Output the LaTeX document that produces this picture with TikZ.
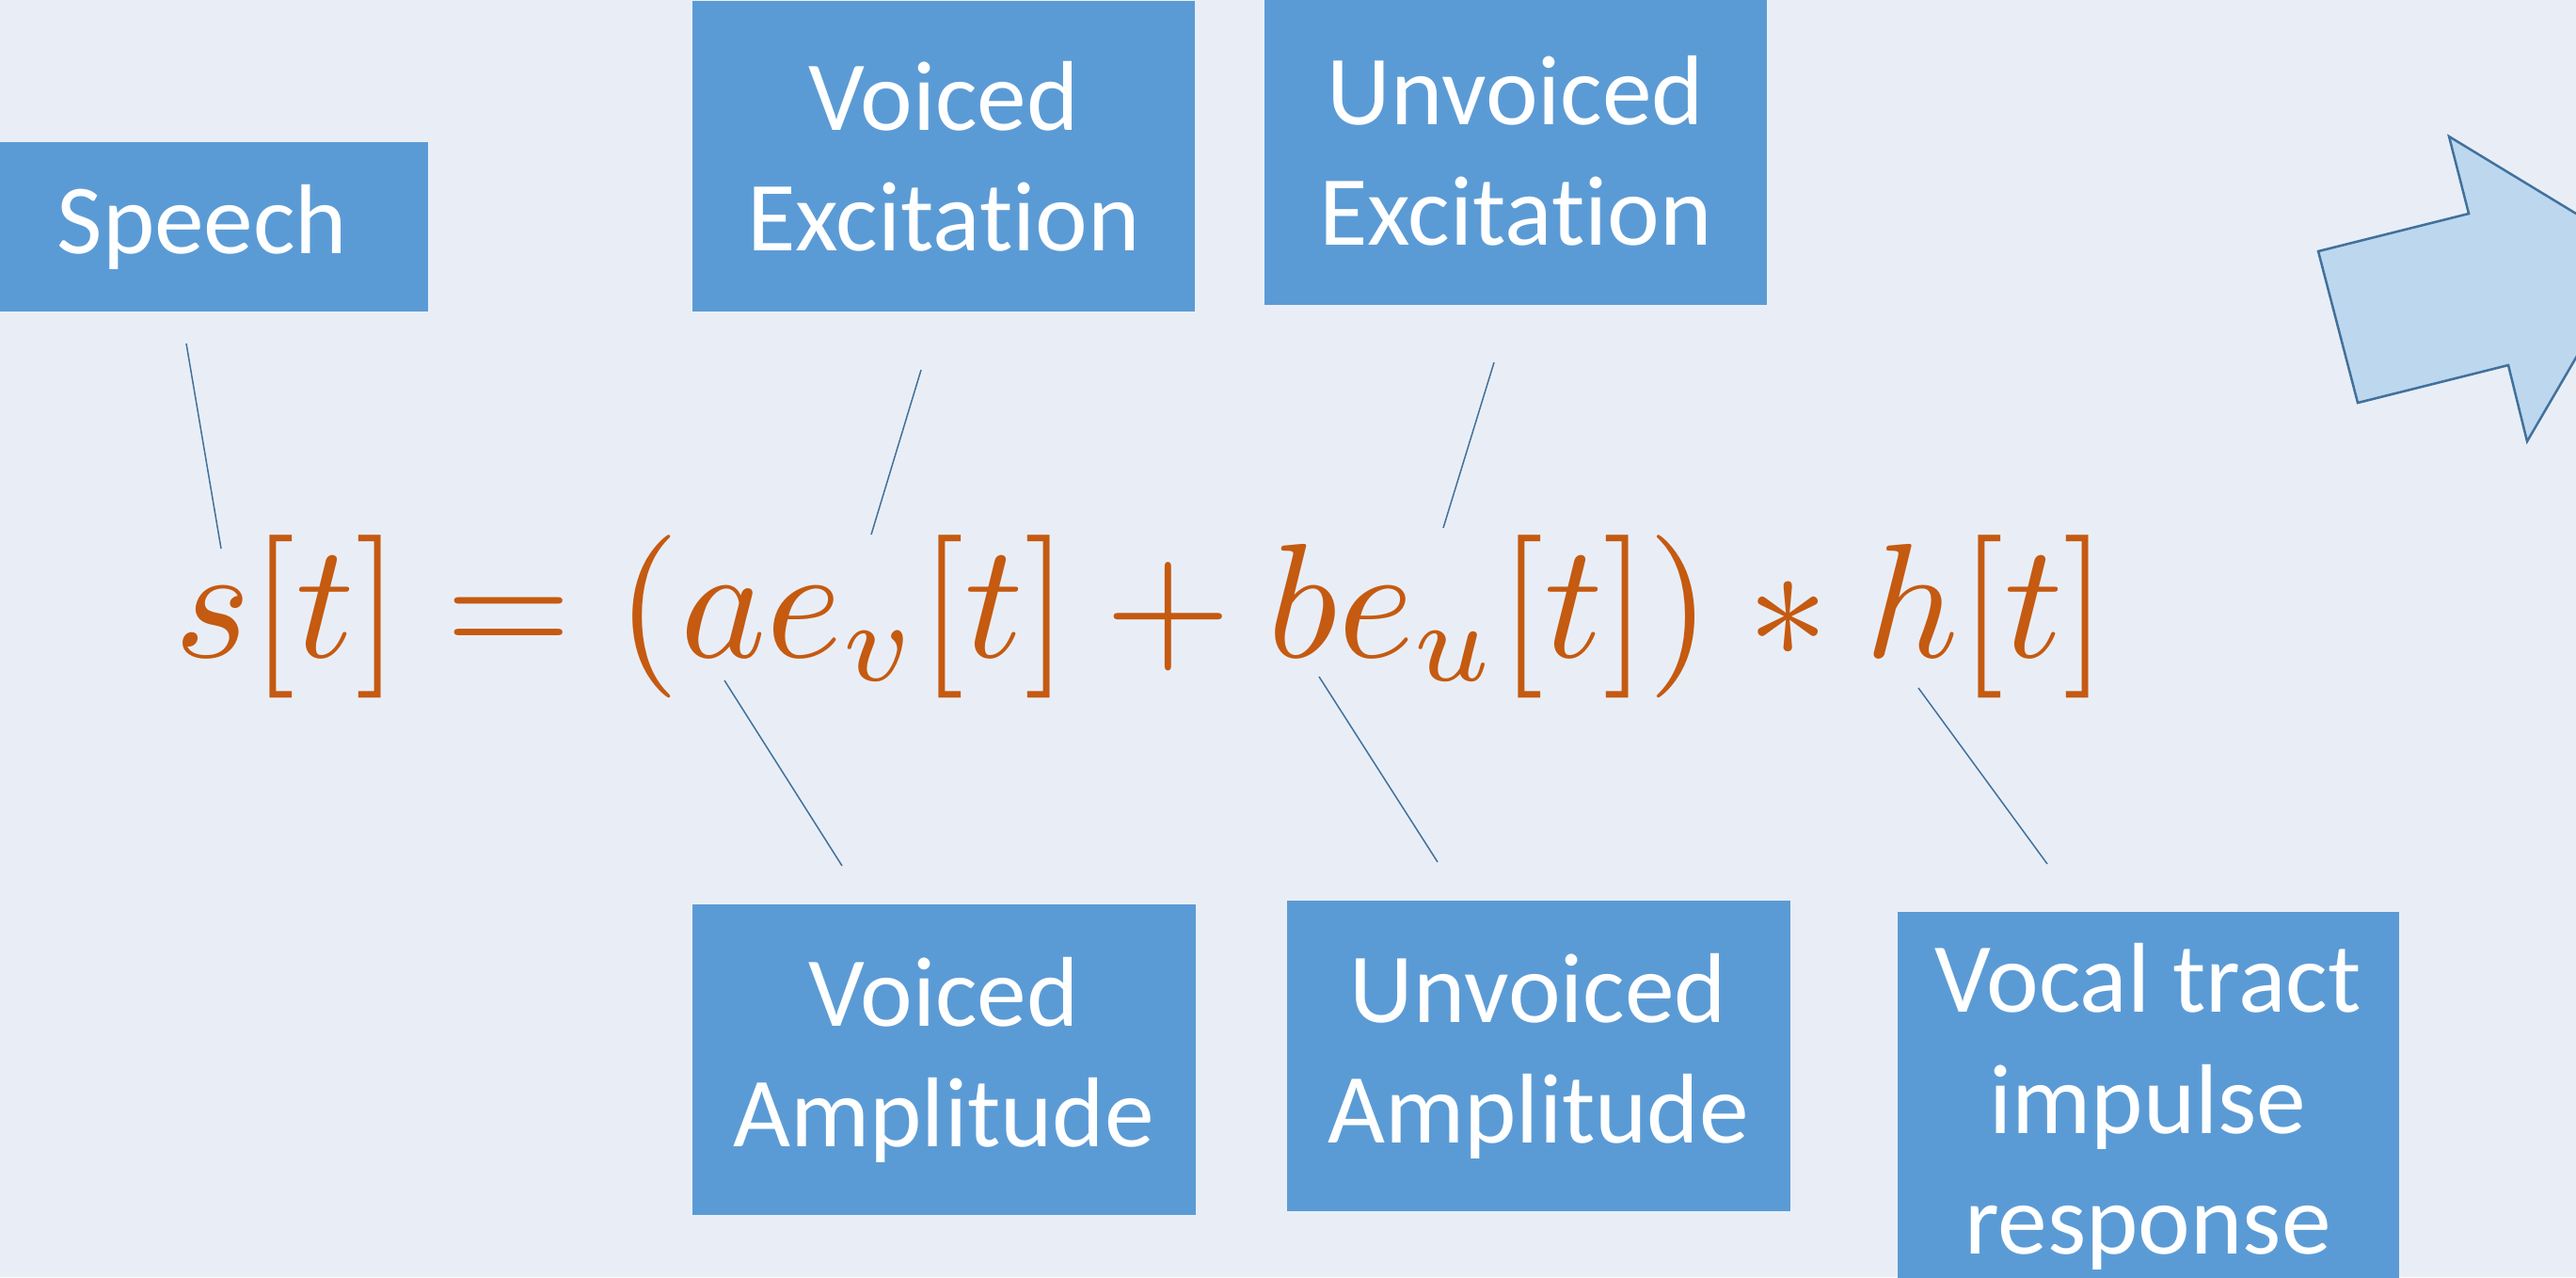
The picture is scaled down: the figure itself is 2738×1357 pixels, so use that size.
\documentclass[tikz,border=0pt]{standalone}
\usepackage{fontspec}
\newfontfamily\calibri[Ligatures={NoCommon,NoDiscretionary,NoRare}]{Carlito}
\definecolor{bg}{HTML}{E9EEF6}
\definecolor{boxblue}{HTML}{5B9BD5}
\definecolor{edgeblue}{HTML}{41719C}
\definecolor{lightblue}{HTML}{BDD7EE}
\definecolor{eqorange}{HTML}{C55A11}
\tikzset{
  labelbox/.style={rectangle, fill=boxblue, text=white, inner sep=0pt, align=center,
    font=\calibri\fontsize{30}{36.5}\selectfont},
  conn/.style={draw=edgeblue, line width=0.15mm},
  bigarrow/.style={draw=edgeblue, fill=lightblue, line width=0.25mm, line join=miter}
}
\begin{document}
\begin{tikzpicture}[x=0.1mm,y=-0.1mm]
\useasboundingbox (0,0) rectangle (2738,1357);
\fill[bg] (0,0) rectangle (2738,1357);
\begin{scope}
\clip (0,0) rectangle (2738,1357);
% top boxes
\node[labelbox, minimum width=48mm, minimum height=18mm] (speech) at (215,241) {Speech};
\node[labelbox, minimum width=53.4mm, minimum height=33mm] (vexc) at (1003,166) {Voiced\\Excitation};
\node[labelbox, minimum width=53.4mm, minimum height=32.8mm] (uexc) at (1611,160) {Unvoiced\\Excitation};
% bottom boxes
\node[labelbox, minimum width=53.5mm, minimum height=33mm] (vamp) at (1003,1126) {Voiced\\Amplitude};
\node[labelbox, minimum width=53.5mm, minimum height=33mm] (uamp) at (1635,1122) {Unvoiced\\Amplitude};
\node[labelbox, minimum width=53.3mm, minimum height=41.5mm] (vtract) at (2283,1176) {Vocal tract\\impulse\\response};
% arrow
\draw[bigarrow] (2464,267) -- (2624,227) -- (2603,145) -- (2804,267) -- (2686,469) -- (2666,388) -- (2506,428) -- cycle;
\end{scope}
% equation
\node[anchor=base west, inner sep=0pt, text=eqorange] (eq) at (185,698)
  {\resizebox{205.5mm}{!}{$s[t]=(ae_v[t]+be_u[t])*h[t]$}};
% connectors
\coordinate (sp1) at (198,365); \coordinate (sp2) at (235,583);
\coordinate (ve1) at (979,393); \coordinate (ve2) at (926,568);
\coordinate (ue1) at (1588,385); \coordinate (ue2) at (1534,561);
\coordinate (va1) at (770,723); \coordinate (va2) at (895,920);
\coordinate (ua1) at (1402,719); \coordinate (ua2) at (1528,916);
\coordinate (vt1) at (2039,731); \coordinate (vt2) at (2176,918);
\draw[conn] (sp1) -- (sp2);
\draw[conn] (ve1) -- (ve2);
\draw[conn] (ue1) -- (ue2);
\draw[conn] (va1) -- (va2);
\draw[conn] (ua1) -- (ua2);
\draw[conn] (vt1) -- (vt2);
\end{tikzpicture}
\end{document}
